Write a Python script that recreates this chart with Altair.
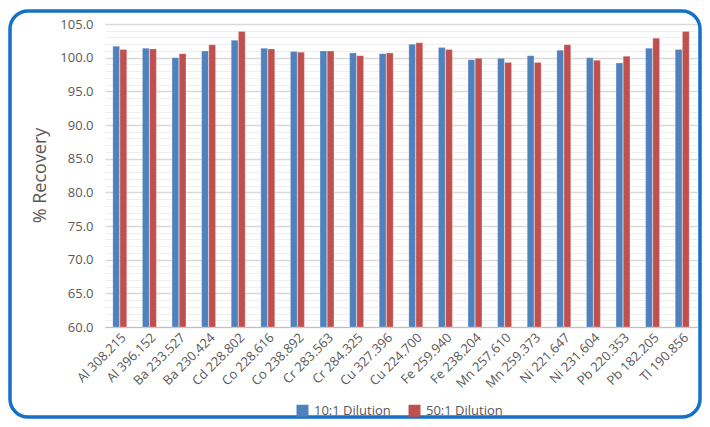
import altair as alt
import pandas as pd

categories = ["Al 308.215", "Al 396.152", "Ba 233.527", "Ba 230.424", "Cd 228.802",
              "Co 228.616", "Co 238.892", "Cr 283.563", "Cr 284.325", "Cu 327.396",
              "Cu 224.700", "Fe 259.940", "Fe 238.204", "Mn 257.610", "Mn 259.373",
              "Ni 221.647", "Ni 231.604", "Pb 220.353", "Pb 182.205", "Tl 190.856"]
dil_10 = [101.7, 101.4, 100.0, 101.0, 102.6, 101.4, 100.9, 101.0, 100.7, 100.6,
          102.0, 101.5, 99.7, 99.9, 100.3, 101.1, 100.0, 99.2, 101.4, 101.2]
dil_50 = [101.2, 101.3, 100.6, 101.9, 103.9, 101.3, 100.8, 101.0, 100.3, 100.7,
          102.2, 101.2, 99.9, 99.3, 99.3, 101.9, 99.6, 100.2, 102.9, 103.9]
series = ["10:1 Dilution", "50:1 Dilution"]
colors = ["#4f81bd", "#c0504d"]

rows = []
for c, a, b in zip(categories, dil_10, dil_50):
    rows.append({"Element": c, "Series": series[0], "Recovery": a})
    rows.append({"Element": c, "Series": series[1], "Recovery": b})
df = pd.DataFrame(rows)

text_color = "#595959"

bars = alt.Chart(df).mark_bar(stroke="#ffffff", strokeWidth=0.4, strokeOpacity=0.6).encode(
    x=alt.X("Element:N", sort=categories,
            scale=alt.Scale(paddingInner=0.53, paddingOuter=0.265),
            axis=alt.Axis(title=None, labelAngle=-45, labelFontSize=13, labelColor=text_color,
                          ticks=False, domainColor="#bfbfbf", domainWidth=1.2, grid=False,
                          labelPadding=4, labelOverlap=False, labelAlign="right",
                          labelBaseline="top")),
    xOffset=alt.XOffset("Series:N", sort=series, scale=alt.Scale(paddingInner=0.06)),
    y=alt.Y("Recovery:Q",
            scale=alt.Scale(domain=[60, 105], nice=False, zero=False),
            axis=alt.Axis(title="% Recovery", values=list(range(60, 106)),
                          labelExpr="datum.value % 5 === 0 ? format(datum.value, '.1f') : ''",
                          labelFontSize=13, labelColor=text_color, labelPadding=12,
                          labelOverlap=False, domain=False, ticks=False, grid=True,
                          gridColor={"condition": {"test": "datum.value % 5 === 0", "value": "#d9d9d9"},
                                     "value": "#efefef"},
                          gridWidth={"condition": {"test": "datum.value % 5 === 0", "value": 1.6},
                                     "value": 1},
                          titleFontSize=18, titleFontWeight="normal", titleColor=text_color,
                          titleX=-65, titleY=151, titleAngle=-90, titleAlign="center",
                          titleBaseline="middle")),
    y2=alt.datum(60),
    color=alt.Color("Series:N", sort=series,
                    scale=alt.Scale(domain=series, range=colors),
                    legend=alt.Legend(title=None, orient="none", legendX=191, legendY=380,
                                      direction="horizontal", symbolType="square",
                                      symbolSize=144, symbolStrokeWidth=0,
                                      labelFontSize=13, labelColor=text_color,
                                      columnPadding=17, padding=0, labelOffset=5)),
)

frame = alt.Chart(pd.DataFrame({"k": [0]})).mark_rect(
    fillOpacity=0, stroke="#1570c6", strokeWidth=3.5, cornerRadius=18, clip=False
).encode(
    x=alt.value(-95), x2=alt.value(595), y=alt.value(-13), y2=alt.value(393)
)

chart = alt.layer(bars, frame).properties(
    width=592, height=303,
    autosize=alt.AutoSizeParams(type="none"),
    padding={"left": 97, "top": 16, "right": 5, "bottom": 92},
).configure(font="Open Sans").configure_view(stroke=None)

chart.save("out.html", embed_options={"renderer": "svg", "actions": False})
